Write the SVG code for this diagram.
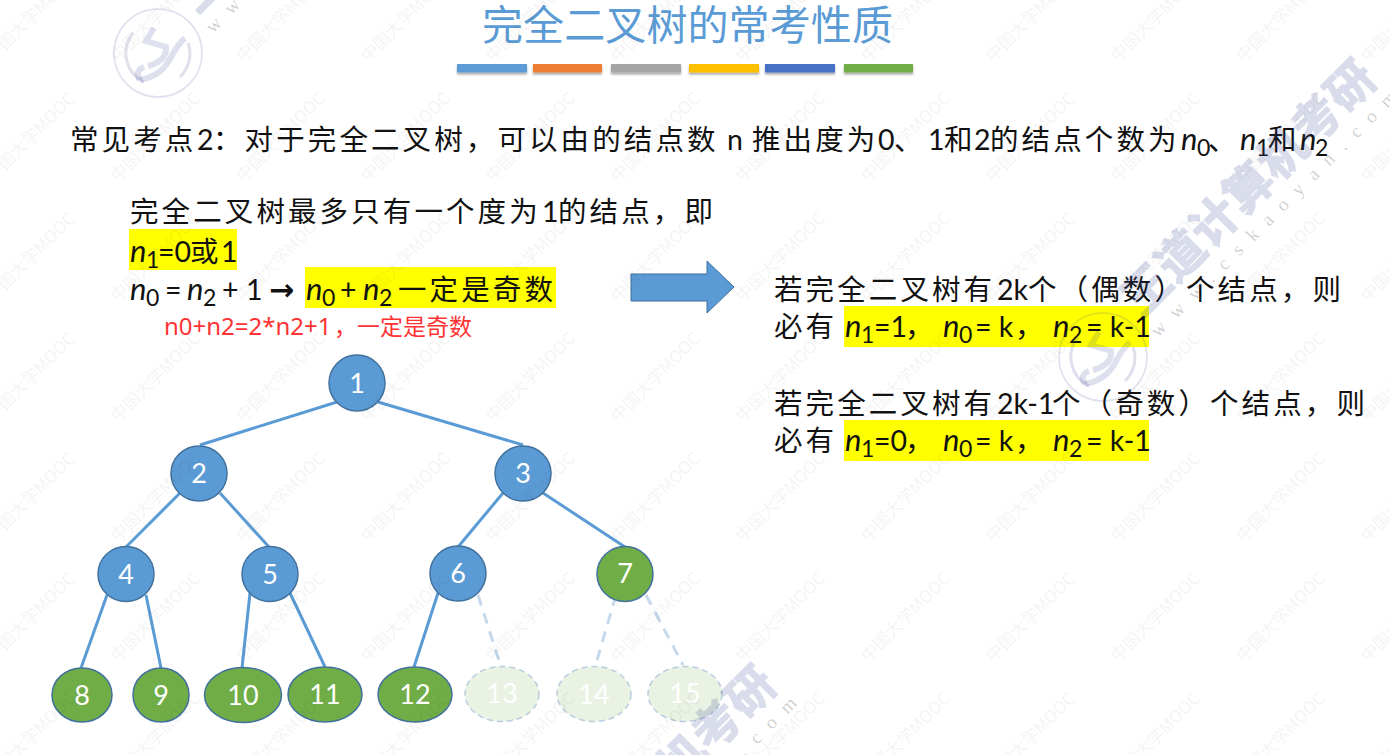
<svg xmlns="http://www.w3.org/2000/svg" width="1390" height="755" viewBox="0 0 1390 755">
<style>
text{font-family:"Noto Sans CJK SC","Noto Sans",sans-serif;fill:#111}
.c{font-size:28.5px;letter-spacing:3.1px}
.l{font-family:Lato,"Noto Sans",sans-serif;font-size:28.5px;letter-spacing:0}
.i{font-family:Lato,"Noto Sans",sans-serif;font-size:31px;font-style:italic}
.s{font-family:Lato,"Noto Sans",sans-serif;font-size:23px}
.hl{fill:#ffff00}
.bar{filter:url(#sh)}
.edge{stroke:#5b9bd5;stroke-width:3;fill:none}
.ghost{stroke:#c6d9ec;stroke-width:3;stroke-dasharray:11 8;fill:none}
.blue{fill:#5b9bd5;stroke:#41719c;stroke-width:1.5}
.green{fill:#70ad47;stroke:#41719c;stroke-width:1.5}
.fade{fill:#e9f2e3;stroke:#b9cddf;stroke-width:1.5;stroke-dasharray:6 4}
.n{font-family:Lato,"Noto Sans",sans-serif;font-size:27px;fill:#fff;text-anchor:middle}
.wm{font-size:47px;font-weight:700;fill:#3c4a96;stroke:#3c4a96;stroke-width:1.6;opacity:.19}
.ww{font-family:"Liberation Serif",serif;font-size:19px;letter-spacing:12.4px;fill:#000;fill-opacity:.2}
.mk{font-size:17px;fill:#000;fill-opacity:.045}
.lg{fill:none;stroke:#3c4a96;stroke-opacity:.17}
</style>
<defs>
<filter id="sh" x="-10%" y="-30%" width="120%" height="200%"><feDropShadow dx="0" dy="2" stdDeviation="1.2" flood-color="#000" flood-opacity=".35"/></filter>
<pattern id="mooc" patternUnits="userSpaceOnUse" x="100" y="323" width="125" height="120">
<text class="mk" transform="translate(18 100) rotate(-45)">中国大学MOOC</text>
</pattern>
<g id="brand">
<text class="wm" transform="translate(1142 318) rotate(-45)" letter-spacing="1">王道计算机考研</text>
<text class="ww" transform="translate(1158 338) rotate(-45)">www.cskaoyan.com</text>
<g transform="translate(1103 357)">
<circle class="lg" r="44" stroke-width="1.5"/>
<path class="lg" stroke-width="3" d="M-25,-20 A32,32 0 0 0 -14,29 M22,24 A32,32 0 0 0 30,-10"/>
<path class="lg" stroke-width="6" d="M-18,27 Q4,23 13,4 Q20,-9 27,-15"/>
<path class="lg" stroke-width="6" d="M-4,-25 L-12,-12 L8,-6 Q9,8 -10,13 M-18,27 Q-24,18 -14,14"/>
</g>
</g>
</defs>

<g id="title">
<text x="482" y="40" font-size="41" letter-spacing="0.1" style="fill:#5b9bd5">完全二叉树的常考性质</text>
<rect class="bar" x="457" y="64" width="70" height="8.5" fill="#5b9bd5"/>
<rect class="bar" x="533" y="64" width="69" height="8.5" fill="#ed7d31"/>
<rect class="bar" x="611" y="64" width="70" height="8.5" fill="#a5a5a5"/>
<rect class="bar" x="689" y="64" width="70" height="8.5" fill="#ffc000"/>
<rect class="bar" x="765" y="64" width="70" height="8.5" fill="#4472c4"/>
<rect class="bar" x="844" y="64" width="69" height="8.5" fill="#70ad47"/>
</g>

<g id="point">
<text y="150"><tspan class="c" x="70">常见考点</tspan><tspan class="l" x="197">2</tspan><tspan class="c" x="213">：对于完全二叉树，可以由的结点数</tspan><tspan class="l" x="727">n</tspan><tspan class="c" x="752">推出度为</tspan><tspan class="l" x="878">0</tspan><tspan class="c" x="894">、</tspan><tspan class="l" x="928">1</tspan><tspan class="c" x="944">和</tspan><tspan class="l" x="974">2</tspan><tspan class="c" x="990">的结点个数为</tspan><tspan class="i" x="1181">n</tspan><tspan class="s" x="1197" y="156">0</tspan><tspan class="c" x="1208" y="150">、</tspan><tspan class="i" x="1240">n</tspan><tspan class="s" x="1256" y="156">1</tspan><tspan class="c" x="1268" y="150">和</tspan><tspan class="i" x="1300">n</tspan><tspan class="s" x="1315" y="156">2</tspan></text>
</g>

<g id="left-text">
<rect class="hl" x="129" y="229" width="108" height="41"/>
<rect class="hl" x="305" y="267" width="251" height="41"/>
<text y="222"><tspan class="c" x="130">完全二叉树最多只有一个度为</tspan><tspan class="l" x="542">1</tspan><tspan class="c" x="558">的结点，即</tspan></text>
<text y="262"><tspan class="i" x="130">n</tspan><tspan class="s" x="146" y="268">1</tspan><tspan class="l" x="158" y="262">=0</tspan><tspan class="c" x="190">或</tspan><tspan class="l" x="221">1</tspan></text>
<text y="300"><tspan class="i" x="130">n</tspan><tspan class="s" x="146" y="306">0</tspan><tspan class="l" x="165" y="300">=</tspan><tspan class="i" x="187">n</tspan><tspan class="s" x="203" y="306">2</tspan><tspan class="l" x="222" y="300">+</tspan><tspan class="l" x="246">1</tspan><tspan x="269" font-size="30" font-weight="700" style="font-family:'DejaVu Sans',sans-serif">→</tspan><tspan class="i" x="306">n</tspan><tspan class="s" x="322" y="306">0</tspan><tspan class="l" x="340" y="300">+</tspan><tspan class="i" x="363">n</tspan><tspan class="s" x="379" y="306">2</tspan><tspan class="c" x="398" y="300">一定是奇数</tspan></text>
<text y="335" style="fill:#ff3333"><tspan x="164" font-size="24" style="font-family:'Noto Sans',sans-serif">n0+n2=2*n2+1</tspan><tspan x="334" font-size="23">，一定是奇数</tspan></text>
</g>

<g id="arrow"><path d="M631,274H707V261L734,287L707,313V301H631Z" fill="#5b9bd5" stroke="#41719c" stroke-width="1"/></g>

<g id="right-text">
<rect class="hl" x="844" y="306" width="305" height="41"/>
<rect class="hl" x="844" y="420" width="305" height="41"/>
<text y="300"><tspan class="c" x="774">若完全二叉树有</tspan><tspan class="l" x="997">2k</tspan><tspan class="c" x="1028">个（偶数）个结点，则</tspan></text>
<text y="337"><tspan class="c" x="774">必有</tspan><tspan class="i" x="845">n</tspan><tspan class="s" x="861" y="343">1</tspan><tspan class="l" x="874" y="337">=1</tspan><tspan class="c" x="905">，</tspan><tspan class="i" x="943">n</tspan><tspan class="s" x="959" y="343">0</tspan><tspan class="l" x="975" y="337">= k</tspan><tspan class="c" x="1015">，</tspan><tspan class="i" x="1053">n</tspan><tspan class="s" x="1069" y="343">2</tspan><tspan class="l" x="1086" y="337">= k-1</tspan></text>
<text y="414"><tspan class="c" x="774">若完全二叉树有</tspan><tspan class="l" x="997">2k-1</tspan><tspan class="c" x="1052">个（奇数）个结点，则</tspan></text>
<text y="451"><tspan class="c" x="774">必有</tspan><tspan class="i" x="845">n</tspan><tspan class="s" x="861" y="457">1</tspan><tspan class="l" x="874" y="451">=0</tspan><tspan class="c" x="905">，</tspan><tspan class="i" x="943">n</tspan><tspan class="s" x="959" y="457">0</tspan><tspan class="l" x="975" y="451">= k</tspan><tspan class="c" x="1015">，</tspan><tspan class="i" x="1053">n</tspan><tspan class="s" x="1069" y="457">2</tspan><tspan class="l" x="1086" y="451">= k-1</tspan></text>
</g>

<g id="connectors">
<path class="edge" d="M337,402L200,445"/>
<path class="edge" d="M378,402L523,445"/>
<path class="edge" d="M180,493L126,547"/>
<path class="edge" d="M220,493L269,547"/>
<path class="edge" d="M503,493L458,547"/>
<path class="edge" d="M543,493L625,547"/>
<path class="edge" d="M107,595L81,668"/>
<path class="edge" d="M146,595L161,668"/>
<path class="edge" d="M250,593L242,668"/>
<path class="edge" d="M290,593L325,667"/>
<path class="edge" d="M438,593L414,667"/>
<path class="ghost" d="M478,595L501,667"/>
<path class="ghost" d="M616,595L595,667"/>
<path class="ghost" d="M646,595L683,665"/>
</g>

<g id="node1"><ellipse class="blue" cx="357" cy="383" rx="28" ry="28"/><text class="n" x="357" y="393">1</text></g>
<g id="node2"><ellipse class="blue" cx="199" cy="473.5" rx="28" ry="27.5"/><text class="n" x="199" y="483">2</text></g>
<g id="node3"><ellipse class="blue" cx="523" cy="473.5" rx="28" ry="27.5"/><text class="n" x="523" y="483">3</text></g>
<g id="node4"><ellipse class="blue" cx="126" cy="574" rx="28" ry="27.5"/><text class="n" x="126" y="584">4</text></g>
<g id="node5"><ellipse class="blue" cx="270" cy="574" rx="28" ry="27.5"/><text class="n" x="270" y="584">5</text></g>
<g id="node6"><ellipse class="blue" cx="458" cy="573.5" rx="28" ry="27.5"/><text class="n" x="458" y="583">6</text></g>
<g id="node7"><ellipse class="green" cx="625" cy="574" rx="28" ry="27.5"/><text class="n" x="625" y="583">7</text></g>
<g id="node8"><ellipse class="green" cx="82" cy="695" rx="30" ry="27"/><text class="n" x="82" y="705">8</text></g>
<g id="node9"><ellipse class="green" cx="161" cy="695" rx="28" ry="27"/><text class="n" x="161" y="705">9</text></g>
<g id="node10"><ellipse class="green" cx="243" cy="695" rx="38.5" ry="27.5"/><text class="n" x="243" y="705">10</text></g>
<g id="node11"><ellipse class="green" cx="325" cy="694.5" rx="37" ry="27.5"/><text class="n" x="325" y="704">11</text></g>
<g id="node12"><ellipse class="green" cx="415" cy="694.5" rx="37" ry="27.5"/><text class="n" x="415" y="704">12</text></g>
<g id="node13"><ellipse class="fade" cx="502" cy="694" rx="37" ry="27.5"/><text class="n" x="502" y="703">13</text></g>
<g id="node14"><ellipse class="fade" cx="594" cy="694" rx="37" ry="27.5"/><text class="n" x="594" y="704">14</text></g>
<g id="node15"><ellipse class="fade" cx="685" cy="694" rx="37" ry="27.5"/><text class="n" x="685" y="703">15</text></g>

<g id="watermark">
<rect width="1390" height="755" fill="url(#mooc)"/>
<use href="#brand"/>
<use href="#brand" x="-945" y="-304"/>
<use href="#brand" x="-600" y="606"/>
</g>
</svg>
